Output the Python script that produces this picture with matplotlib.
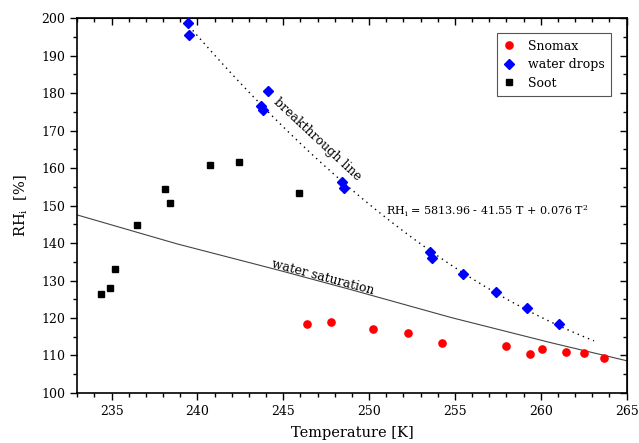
import numpy as np
import matplotlib.pyplot as plt
from matplotlib.ticker import MultipleLocator

plt.rcParams['font.family'] = ['DejaVu Serif']
plt.rcParams['mathtext.fontset'] = 'dejavuserif'

# Snomax
snomax_t = [246.4, 247.75, 250.24, 252.26, 254.27, 257.99, 259.39, 260.07, 261.49, 262.5, 263.71]
snomax_rh = [118.5, 119.0, 117.1, 116.0, 113.4, 112.6, 110.3, 111.6, 110.9, 110.6, 109.2]

# water drops
drops_t = [239.42, 239.52, 244.13, 243.7, 243.82, 248.43, 248.53, 253.53, 253.65,
           255.48, 257.38, 259.19, 261.08]
drops_rh = [198.8, 195.5, 180.6, 176.6, 175.4, 156.4, 154.8, 137.7, 136.1,
            131.7, 127.0, 122.6, 118.3]

# Soot
soot_t = [234.38, 234.89, 235.2, 236.5, 238.1, 238.41, 240.73, 242.42, 245.94]
soot_rh = [126.3, 127.9, 133.2, 144.7, 154.5, 150.7, 160.9, 161.6, 153.5]

# water saturation curve
sat_t = [233, 238.8, 244.7, 249.0, 254.8, 260.6, 265]
sat_rh = [147.5, 139.8, 132.8, 127.5, 120.1, 113.4, 108.6]

# temperature range of the breakthrough fit
fit_range = (239.3, 263.1)

fig = plt.figure(figsize=(6.39, 4.43), dpi=100)
ax = fig.add_axes([0.121, 0.113, 0.8596, 0.8457])

ax.plot(sat_t, sat_rh, color='#444444', lw=0.8)

coef = np.polyfit(drops_t, drops_rh, 2)
tt = np.linspace(fit_range[0], fit_range[1], 200)
ax.plot(tt, np.polyval(coef, tt), color='black', lw=1.0, ls=(0, (1, 3)))

ax.plot(snomax_t, snomax_rh, 'o', color='red', ms=5.2, mec='red', label='Snomax', zorder=5)
ax.plot(drops_t, drops_rh, 'D', color='blue', ms=5.0, mec='blue', label='water drops', zorder=5)
ax.plot(soot_t, soot_rh, 's', color='black', ms=5.0, label='Soot', zorder=5)

ax.text(247.0, 167.6, 'breakthrough line', rotation=-43, ha='center', va='center', fontsize=9)
ax.text(247.33, 130.8, 'water saturation', rotation=-15, ha='center', va='center', fontsize=9)
ax.text(251.0, 148.6, r'RH$_{\rm i}$ = 5813.96 - 41.55 T + 0.076 T$^2$', ha='left',
        va='center', fontsize=8)

ax.set_xlim(233, 265)
ax.set_ylim(100, 200)
ax.xaxis.set_major_locator(MultipleLocator(5))
ax.xaxis.set_minor_locator(MultipleLocator(1))
ax.yaxis.set_major_locator(MultipleLocator(10))
ax.yaxis.set_minor_locator(MultipleLocator(5))
ax.tick_params(which='major', direction='out', length=5, width=1, labelsize=9)
ax.tick_params(which='minor', direction='out', length=3, width=1)
for s in ax.spines.values():
    s.set_linewidth(1.2)

top = ax.secondary_xaxis('top')
top.xaxis.set_major_locator(MultipleLocator(5))
top.xaxis.set_minor_locator(MultipleLocator(1))
top.tick_params(which='major', direction='in', length=5, width=1, labeltop=False)
top.tick_params(which='minor', direction='in', length=3, width=1)
right = ax.secondary_yaxis('right')
right.yaxis.set_major_locator(MultipleLocator(10))
right.yaxis.set_minor_locator(MultipleLocator(5))
right.tick_params(which='major', direction='in', length=5, width=1, labelright=False)
right.tick_params(which='minor', direction='in', length=3, width=1)

ax.set_xlabel('Temperature [K]', fontsize=10.5, labelpad=6)
ax.set_ylabel(r'RH$_{\rm i}$  [%]', fontsize=10.5, labelpad=8)

leg = ax.legend(loc='upper right', bbox_to_anchor=(0.978, 0.97), fontsize=9, fancybox=False,
                edgecolor='#555555', framealpha=1, handlelength=1.0, handletextpad=1.0,
                borderpad=0.5, labelspacing=0.45, borderaxespad=0.3)
leg.get_frame().set_linewidth(0.8)

fig.savefig('out.png', dpi=100)
